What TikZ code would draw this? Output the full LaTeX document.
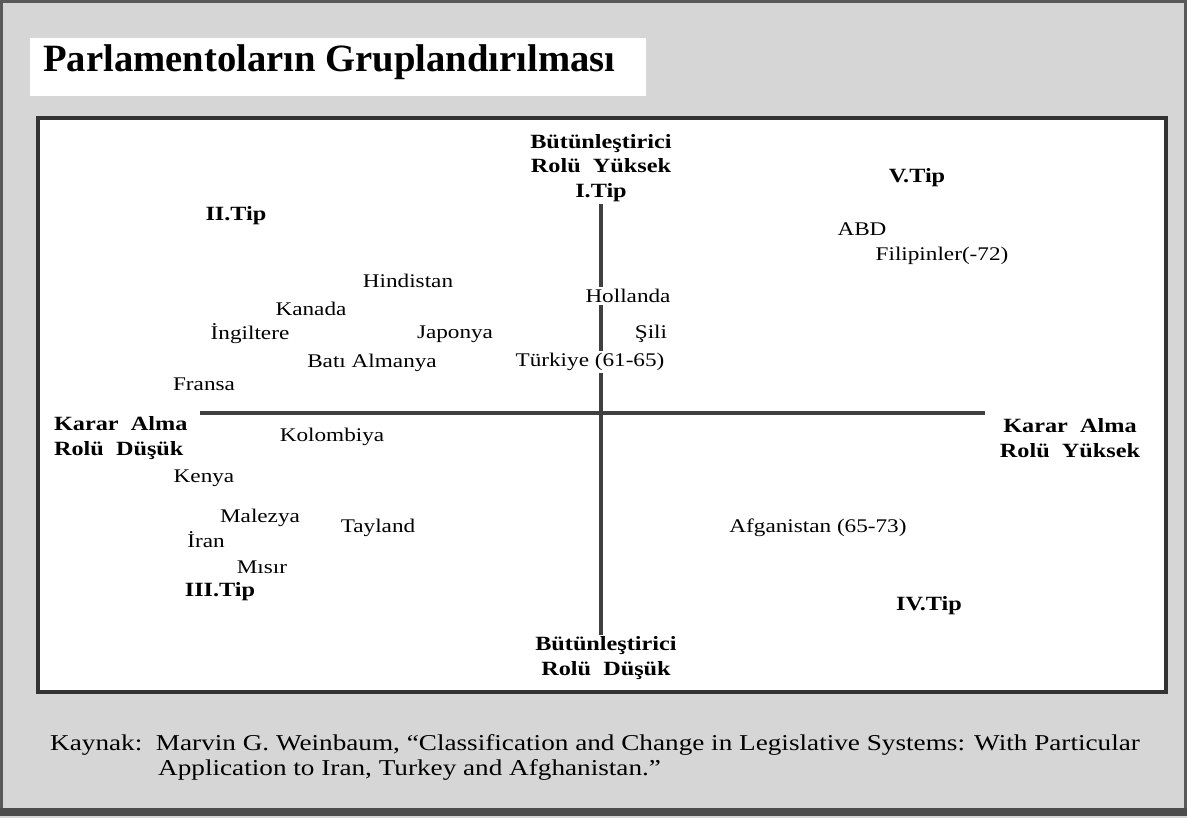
\documentclass[tikz,border=0pt]{standalone}
\usepackage{fontspec}
\setmainfont{Liberation Serif}
\newfontfamily\wide[FakeStretch=1.2]{Liberation Serif}
\begin{document}
\begin{tikzpicture}[x=0.02cm,y=-0.02cm,
  ulke/.style={font=\wide\fontsize{11}{13}\selectfont,fill=white,inner sep=1pt},
  tip/.style={font=\wide\bfseries\fontsize{11.5}{14}\selectfont,fill=white,inner sep=1pt,align=center},
  eksen/.style={line width=1.8pt,draw=black!75}]
\useasboundingbox (0,0) rectangle (1187,818);
\fill[black!16] (0,0) rectangle (1187,818);
\draw[black!65,line width=2pt] (1,1) rectangle (1186,810);
\draw[black!70,line width=4pt] (0,812) -- (1187,812);
\fill[white] (30,38) rectangle (646,96);
\node[anchor=west,font=\bfseries\fontsize{22}{26}\selectfont] (baslik) at (37,62) {Parlamentoların Gruplandırılması};
\draw[fill=white,draw=black!80,line width=2pt] (38,118) rectangle (1166,692);
\node[tip] (ust) at (601,168) {Bütünleştirici\\Rolü\ \ Yüksek\\I.Tip};
\node[tip] (alt) at (606,658) {Bütünleştirici\\Rolü\ \ Düşük};
\node[tip,align=left,anchor=west] (sol) at (52,438) {Karar\ \ Alma\\Rolü\ \ Düşük};
\node[tip] (sag) at (1070,438) {Karar\ \ Alma\\Rolü\ \ Yüksek};
\coordinate (solu) at (200,413);
\coordinate (sagu) at (985,413);
\draw[eksen] (ust.south) -- (ust.south |- alt.north);
\draw[eksen] (solu) -- (sagu);
\node[tip] (tipII) at (236,216) {II.Tip};
\node[tip] (tipIII) at (220,592) {III.Tip};
\node[tip] (tipIV) at (929,606) {IV.Tip};
\node[tip] (tipV) at (917,178) {V.Tip};
\node[ulke] (abd) at (862,229) {ABD};
\node[ulke] (filipinler) at (942,256) {Filipinler(-72)};
\node[ulke] (hindistan) at (408,281) {Hindistan};
\node[ulke] (kanada) at (311,309) {Kanada};
\node[ulke] (ingiltere) at (250,334) {İngiltere};
\node[ulke] (japonya) at (455,334) {Japonya};
\node[ulke] (hollanda) at (628,296) {Hollanda};
\node[ulke] (sili) at (651,334) {Şili};
\node[ulke] (batialmanya) at (372,363) {Batı Almanya};
\node[ulke] (turkiye) at (590,362) {Türkiye (61-65)};
\node[ulke] (fransa) at (204,384) {Fransa};
\node[ulke] (kolombiya) at (332,437) {Kolombiya};
\node[ulke] (kenya) at (204,478) {Kenya};
\node[ulke] (malezya) at (260,518) {Malezya};
\node[ulke] (tayland) at (378,528) {Tayland};
\node[ulke] (iran) at (206,540) {İran};
\node[ulke] (misir) at (262,567) {Mısır};
\node[ulke] (afganistan) at (818,528) {Afganistan (65-73)};
\node[anchor=west,font=\wide\fontsize{12.9}{15}\selectfont] (kaynak1) at (44,745) {Kaynak:\ \ Marvin G. Weinbaum, “Classification and Change in Legislative Systems: With Particular};
\node[anchor=west,font=\wide\fontsize{12.9}{15}\selectfont] (kaynak2) at (152,770) {Application to Iran, Turkey and Afghanistan.”};
\end{tikzpicture}
\end{document}
